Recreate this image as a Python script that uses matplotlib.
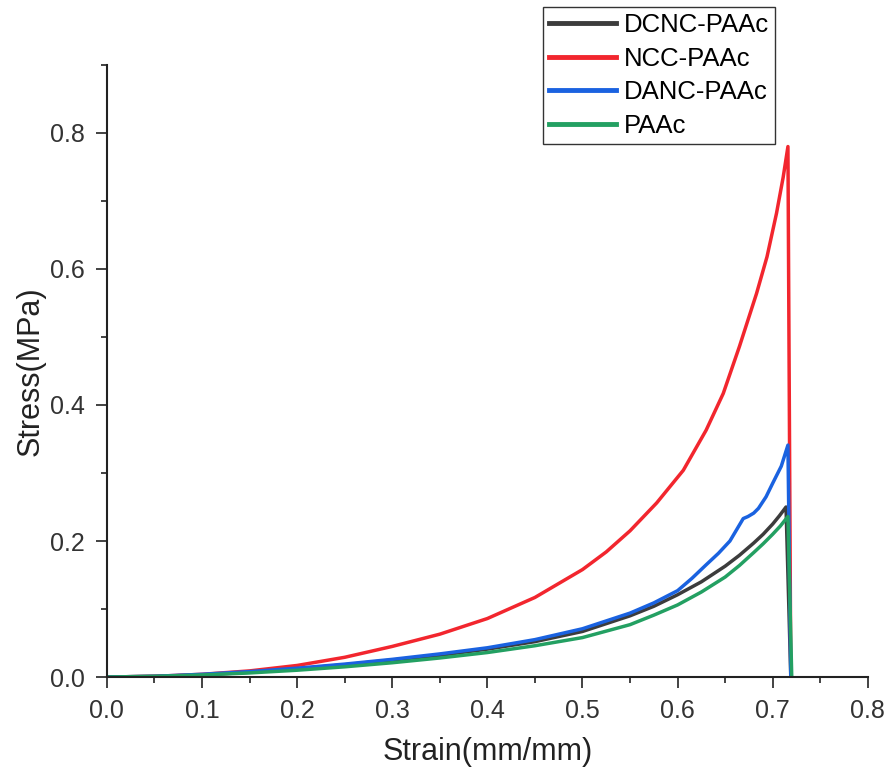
import matplotlib.pyplot as plt
from matplotlib.ticker import MultipleLocator

plt.rcParams['font.family'] = ['Liberation Sans', 'DejaVu Sans']

# Stress-strain curves (strain in mm/mm, stress in MPa)
strain_dcnc = [0, 0.05, 0.1, 0.15, 0.2, 0.25, 0.3, 0.35, 0.4, 0.45, 0.5, 0.55, 0.575, 0.6, 0.625, 0.65, 0.665,
               0.68, 0.69, 0.70, 0.707, 0.714, 0.719]
stress_dcnc = [0, 0.001, 0.003, 0.007, 0.012, 0.018, 0.025, 0.032, 0.041, 0.052, 0.067, 0.090, 0.104, 0.121, 0.140,
               0.163, 0.179, 0.197, 0.210, 0.225, 0.237, 0.250, 0.0]

strain_ncc = [0, 0.05, 0.1, 0.15, 0.2, 0.25, 0.3, 0.35, 0.4, 0.45, 0.5, 0.525, 0.55, 0.578, 0.606, 0.63, 0.648,
              0.665, 0.683, 0.694, 0.704, 0.711, 0.716, 0.719]
stress_ncc = [0, 0.001, 0.004, 0.009, 0.017, 0.029, 0.045, 0.063, 0.086, 0.117, 0.158, 0.184, 0.215, 0.256, 0.304,
              0.363, 0.417, 0.486, 0.564, 0.618, 0.682, 0.735, 0.780, 0.0]

strain_danc = [0, 0.05, 0.1, 0.15, 0.2, 0.25, 0.3, 0.35, 0.4, 0.45, 0.5, 0.55, 0.575, 0.6, 0.615, 0.63, 0.643,
               0.655, 0.669, 0.674, 0.68, 0.685, 0.693, 0.70, 0.709, 0.716, 0.719]
stress_danc = [0, 0.001, 0.004, 0.008, 0.013, 0.019, 0.026, 0.034, 0.043, 0.055, 0.071, 0.094, 0.109, 0.127, 0.145,
               0.165, 0.182, 0.200, 0.233, 0.236, 0.241, 0.248, 0.265, 0.285, 0.310, 0.341, 0.0]

strain_paac = [0, 0.05, 0.1, 0.15, 0.2, 0.25, 0.3, 0.35, 0.4, 0.45, 0.5, 0.55, 0.575, 0.6, 0.625, 0.65, 0.665,
               0.68, 0.69, 0.70, 0.708, 0.716, 0.72]
stress_paac = [0, 0.001, 0.003, 0.006, 0.010, 0.015, 0.021, 0.028, 0.036, 0.046, 0.058, 0.077, 0.091, 0.106, 0.125,
               0.147, 0.164, 0.183, 0.196, 0.210, 0.222, 0.236, 0.0]

fig = plt.figure(figsize=(8.91, 7.78), dpi=100)
ax = fig.add_axes([0.120, 0.1298, 0.854, 0.7867])

lw = 2.5
ax.plot(strain_dcnc, stress_dcnc, color='#3c3c3c', lw=lw, label='DCNC-PAAc')
ax.plot(strain_ncc, stress_ncc, color='#f2262e', lw=lw, label='NCC-PAAc')
ax.plot(strain_danc, stress_danc, color='#1a62e0', lw=lw, label='DANC-PAAc')
ax.plot(strain_paac, stress_paac, color='#23a062', lw=lw, label='PAAc')

ax.set_xlim(0, 0.8)
ax.set_ylim(0, 0.9)
ax.xaxis.set_major_locator(MultipleLocator(0.1))
ax.xaxis.set_minor_locator(MultipleLocator(0.05))
ax.yaxis.set_major_locator(MultipleLocator(0.2))
ax.yaxis.set_minor_locator(MultipleLocator(0.1))
ax.xaxis.set_major_formatter(plt.FormatStrFormatter('%.1f'))
ax.yaxis.set_major_formatter(plt.FormatStrFormatter('%.1f'))

for side in ['top', 'right']:
    ax.spines[side].set_visible(False)
for side in ['left', 'bottom']:
    ax.spines[side].set_linewidth(1.5)
    ax.spines[side].set_color('#222222')

ax.tick_params(which='major', direction='out', length=8, width=1.2, labelsize=18,
               color='#222222', labelcolor='#333333', pad=8)
ax.tick_params(which='minor', direction='out', length=4, width=1.2, color='#222222')

ax.set_xlabel('Strain(mm/mm)', fontsize=22, color='#222222', labelpad=10)
ax.set_ylabel('Stress(MPa)', fontsize=22, color='#222222', labelpad=3)

leg = ax.legend(loc='upper left', bbox_to_anchor=(0.573, 1.095), fontsize=18.5,
                frameon=True, fancybox=False, edgecolor='#333333', framealpha=1,
                handlelength=2.6, handletextpad=0.3, labelspacing=0.37,
                borderpad=0.25, borderaxespad=0)
leg.get_frame().set_linewidth(1.0)
for line in leg.get_lines():
    line.set_linewidth(3.5)

fig.savefig('out.png', dpi=100)
